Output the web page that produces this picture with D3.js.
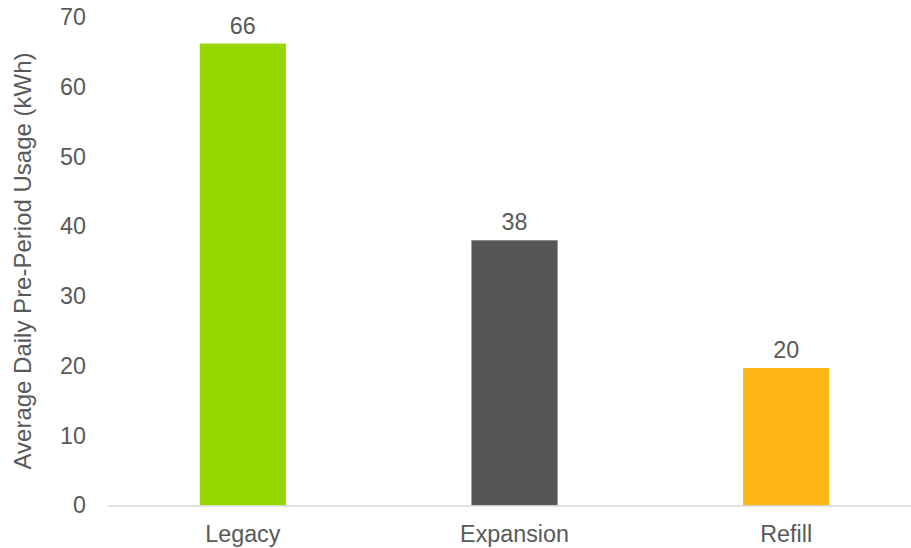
<!DOCTYPE html>
<html>
<head>
<meta charset="utf-8">
<script src="https://cdn.jsdelivr.net/npm/d3@7"></script>
<style>
    body { margin: 0; background: #fff; }
    text { font-family: 'Liberation Sans', Arial, sans-serif; fill: #595959; }
</style>
</head>
<body>
<div id="chart"></div>
<script>
const categories = ['Legacy', 'Expansion', 'Refill'];
const usageValues = [66.2, 38.0, 19.7];
const barColors = ['#97d700', '#555658', '#fdb515'];
const yTicks = [0, 10, 20, 30, 40, 50, 60, 70];

const width = 911;
const height = 548;
const margin = { top: 17, right: -11, bottom: 42.5, left: 107 };
const w = width - margin.left - margin.right;
const h = height - margin.top - margin.bottom;
const fontSize = '23.3px';

const svg = d3.select('#chart')
    .append('svg')
    .attr('width', width)
    .attr('height', height);

const g = svg.append('g')
    .attr('transform', `translate(${margin.left}, ${margin.top})`);

const data = categories.map((name, i) => ({ name, value: usageValues[i], color: barColors[i] }));

const xScale = d3.scaleBand()
    .domain(categories)
    .range([0, w])
    .paddingInner(0.683)
    .paddingOuter(0.3415);

const yScale = d3.scaleLinear()
    .domain([0, 70])
    .range([h, 0]);

// y axis: labels only
const yAxis = g.append('g')
    .call(d3.axisLeft(yScale).tickValues(yTicks).tickSize(0).tickPadding(21));
yAxis.select('.domain').remove();
yAxis.selectAll('text')
    .style('font-size', fontSize)
    .style('font-family', "'Liberation Sans', Arial, sans-serif")
    .attr('fill', '#595959');

// bars
g.selectAll('.column')
    .data(data)
    .enter()
    .append('rect')
    .classed('column', true)
    .attr('x', (d) => xScale(d.name))
    .attr('y', (d) => yScale(d.value))
    .attr('width', xScale.bandwidth())
    .attr('height', (d) => h - yScale(d.value))
    .attr('fill', (d) => d.color);

// value labels
g.selectAll('.value-label')
    .data(data)
    .enter()
    .append('text')
    .classed('value-label', true)
    .attr('x', (d) => xScale(d.name) + xScale.bandwidth() / 2)
    .attr('y', (d) => yScale(d.value) - 10)
    .attr('text-anchor', 'middle')
    .style('font-size', fontSize)
    .text((d) => d3.format('.0f')(d.value));

// x axis
const xAxis = g.append('g')
    .attr('transform', `translate(0, ${h})`)
    .call(d3.axisBottom(xScale).tickSize(0).tickPadding(20));
xAxis.select('.domain')
    .attr('stroke', '#d9d9d9')
    .attr('stroke-width', 1.5);
xAxis.selectAll('text')
    .style('font-size', fontSize)
    .style('font-family', "'Liberation Sans', Arial, sans-serif")
    .attr('fill', '#595959');

// y axis title
svg.append('text')
    .attr('transform', 'translate(31, 261) rotate(-90)')
    .attr('text-anchor', 'middle')
    .style('font-size', '24px')
    .text('Average Daily Pre-Period Usage (kWh)');
</script>
</body>
</html>
